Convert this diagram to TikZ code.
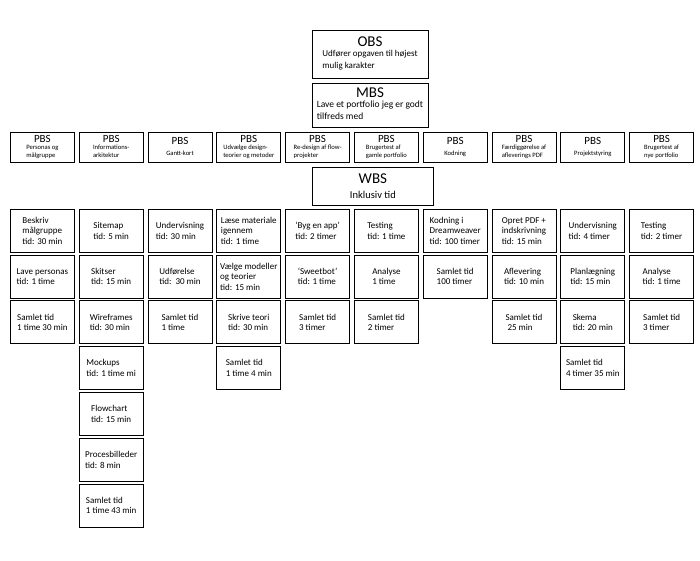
\documentclass[tikz,border=0pt]{standalone}
\usepackage{fontspec}
\setmainfont{Carlito}
\usetikzlibrary{positioning}

\tikzset{
	box/.style={draw, line width=0.8pt, inner sep=1.5pt},
	topbox/.style={box, minimum width=116pt, align=center},
	pbsbox/.style={box, minimum width=64pt, minimum height=30pt, align=center},
	taskbox/.style={box, minimum width=64pt, minimum height=43pt, align=left, font=\fontsize{9}{10.5}\selectfont},
}
\newcommand{\titel}[1]{{\fontsize{15}{16}\selectfont #1}}
\newcommand{\brod}[2][9.5]{{\fontsize{#1}{12}\selectfont\begin{tabular}{@{}l@{}}#2\end{tabular}}}
\newcommand{\pbs}[1]{{\fontsize{11}{10}\selectfont PBS}\\[-1pt]{\fontsize{6.6}{7.4}\selectfont\begin{tabular}{@{}l@{}}#1\end{tabular}}}

\begin{document}
\begin{tikzpicture}[x=1pt,y=-1pt]
				\useasboundingbox (0,0) rectangle (700,560);
				\node[topbox, minimum height=48pt, anchor=north](obs) at (370,30) {\titel{OBS}\\[1pt]\brod[9]{Udfører opgaven til højest\\mulig karakter}};
				\node[topbox, minimum height=44pt, below=4pt of obs](mbs) {\titel{MBS}\\[1pt]\brod{Lave et portfolio jeg er godt\\tilfreds med}};
				\node[pbsbox, anchor=north west](personas) at (10,132) {\pbs{Personas og\\målgruppe}};
				\node[pbsbox, right=4pt of personas](info) {\pbs{Informations-\\arkitektur}};
				\node[pbsbox, right=4pt of info](gantt) {\pbs{Gantt-kort}};
				\node[pbsbox, right=4pt of gantt](design) {\pbs{Udvælge design-\\teorier og metoder}};
				\node[pbsbox, right=4pt of design](flow) {\pbs{Re-design af flow-\\projekter}};
				\node[pbsbox, right=4pt of flow](oldtest) {\pbs{Brugertest af\\gamle portfolio}};
				\node[pbsbox, right=4pt of oldtest](kode) {\pbs{Kodning}};
				\node[pbsbox, right=4pt of kode](pdf) {\pbs{Færdiggørelse af\\afleverings PDF}};
				\node[pbsbox, right=4pt of pdf](styring) {\pbs{Projektstyring}};
				\node[pbsbox, right=4pt of styring](newtest) {\pbs{Brugertest af\\nye portfolio}};
				\node[box, minimum width=121pt, minimum height=38pt, align=center, anchor=north west](wbs) at (312,167) {\titel{WBS}\\[3pt]{\fontsize{10.5}{12}\selectfont Inklusiv tid}};

				\node[taskbox, below=46pt of personas](beskriv) {Beskriv\\målgruppe\\tid: 30 min};
				\node[taskbox, below=2pt of beskriv](lave) {Lave personas\\tid: 1 time};
				\node[taskbox, below=2pt of lave](personassum) {Samlet tid\\1 time 30 min};

				\node[taskbox, below=46pt of info](sitemap) {Sitemap\\tid: 5 min};
				\node[taskbox, below=2pt of sitemap](skitser) {Skitser\\tid: 15 min};
				\node[taskbox, below=2pt of skitser](wireframes) {Wireframes\\tid: 30 min};
				\node[taskbox, below=2pt of wireframes](mockups) {Mockups\\tid: 1 time mi};
				\node[taskbox, below=2pt of mockups](flowchart) {Flowchart\\tid: 15 min};
				\node[taskbox, below=2pt of flowchart](proces) {Procesbilleder\\tid: 8 min};
				\node[taskbox, below=2pt of proces](infosum) {Samlet tid\\1 time 43 min};

				\node[taskbox, below=46pt of gantt](undervisning) {Undervisning\\tid: 30 min};
				\node[taskbox, below=2pt of undervisning](udfoerelse) {Udførelse\\tid:\ \ 30 min};
				\node[taskbox, below=2pt of udfoerelse](ganttsum) {Samlet tid\\1 time};

				\node[taskbox, below=46pt of design](laese) {Læse materiale\\igennem\\tid: 1 time};
				\node[taskbox, below=2pt of laese](vaelge) {Vælge modeller\\og teorier\\tid: 15 min};
				\node[taskbox, below=2pt of vaelge](skrive) {Skrive teori\\tid: 30 min};
				\node[taskbox, below=2pt of skrive](designsum) {Samlet tid\\1 time 4 min};

				\node[taskbox, below=46pt of flow](byg) {‘Byg en app’\\tid: 2 timer};
				\node[taskbox, below=2pt of byg](sweetbot) {‘Sweetbot’\\tid: 1 time};
				\node[taskbox, below=2pt of sweetbot](flowsum) {Samlet tid\\3 timer};

				\node[taskbox, below=46pt of oldtest](testing) {Testing\\tid: 1 time};
				\node[taskbox, below=2pt of testing](analyse) {Analyse\\1 time};
				\node[taskbox, below=2pt of analyse](oldsum) {Samlet tid\\2 timer};

				\node[taskbox, below=46pt of kode](kodning) {Kodning i\\Dreamweaver\\tid: 100 timer};
				\node[taskbox, below=2pt of kodning](kodesum) {Samlet tid\\100 timer};

				\node[taskbox, below=46pt of pdf](opret) {Opret PDF +\\indskrivning\\tid: 15 min};
				\node[taskbox, below=2pt of opret](aflevering) {Aflevering\\tid: 10 min};
				\node[taskbox, below=2pt of aflevering](pdfsum) {Samlet tid\\\ 25 min};

				\node[taskbox, below=46pt of styring](undervisningto) {Undervisning\\tid: 4 timer};
				\node[taskbox, below=2pt of undervisningto](planlaegning) {Planlægning\\tid: 15 min};
				\node[taskbox, below=2pt of planlaegning](skema) {Skema\\tid: 20 min};
				\node[taskbox, below=2pt of skema](styringsum) {Samlet tid\\4 timer 35 min};

				\node[taskbox, below=46pt of newtest](testingto) {Testing\\tid: 2 timer};
				\node[taskbox, below=2pt of testingto](analyseto) {Analyse\\tid: 1 time};
				\node[taskbox, below=2pt of analyseto](newsum) {Samlet tid\\3 timer};
			\end{tikzpicture}
\end{document}
